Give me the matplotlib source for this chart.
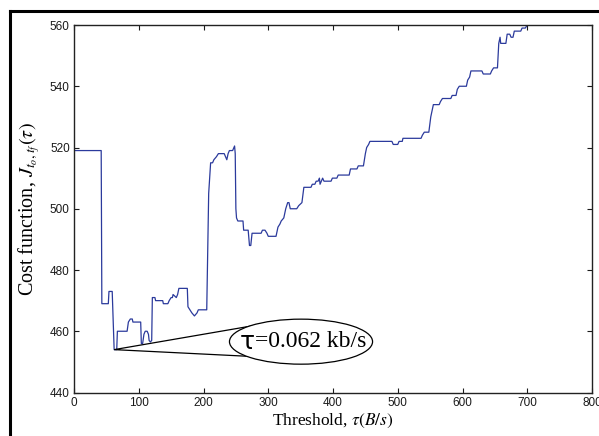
import matplotlib
matplotlib.use('Agg')
import matplotlib.pyplot as plt
from matplotlib.patches import Ellipse, Polygon
from matplotlib.lines import Line2D

plt.rcParams['mathtext.fontset'] = 'stix'

# threshold (B/s) and cost values
tau = [0, 42, 43, 53, 54, 59, 62, 66, 67, 82, 84, 87, 90, 91, 103, 104, 106, 108, 110, 113,
       115, 116, 118, 120, 121, 125, 126, 137, 138, 145, 147, 150, 152, 153, 158, 160, 162,
       166, 175, 176, 179, 182, 186, 190, 192, 205, 206, 208, 211, 214, 216, 220, 223, 232,
       234, 236, 238, 240, 245, 248, 249, 250, 251, 253, 261, 262, 269, 271, 273, 275, 289,
       291, 295, 298, 300, 312, 315, 318, 320, 324, 327, 330, 332, 334, 344, 347, 352, 355,
       366, 368, 372, 374, 377, 379, 380, 382, 384, 386, 397, 399, 406, 408, 425, 427, 437,
       439, 447, 450, 452, 455, 457, 491, 493, 500, 502, 507, 508, 536, 538, 541, 548, 551,
       553, 555, 564, 566, 569, 582, 584, 590, 592, 595, 606, 608, 611, 613, 630, 632, 643,
       645, 648, 654, 655, 656, 658, 659, 667, 669, 673, 675, 678, 680, 690, 692, 697, 700]
cost = [519, 519, 469, 469, 473, 473, 454, 454, 460, 460, 463, 464, 464, 463, 463, 456, 456, 459, 460, 460,
        459, 457, 456.5, 457, 471, 471, 470, 470, 469, 469, 470, 471, 471, 472, 471, 472, 474,
        474, 474, 468, 467, 466, 465, 466, 467, 467, 480, 505, 515, 515, 516, 517, 518, 518,
        517, 516, 518, 519, 519, 520.5, 518, 500, 497, 496, 496, 493, 493, 488, 488, 492, 492,
        493, 493, 492, 491, 491, 494, 495, 496, 497, 500, 502, 502, 500, 500, 501, 502, 507,
        507, 508, 508, 509, 509, 510, 508, 509, 510, 509, 509, 510, 510, 511, 511, 513, 513,
        514, 514, 518, 520, 521, 522, 522, 521, 521, 522, 522, 523, 523, 524, 525, 525, 530,
        532, 534, 534, 535, 536, 536, 537, 537, 539, 540, 540, 542, 543, 545, 545, 544, 544,
        545, 546, 546, 550, 554, 556, 554, 554, 557, 557, 556, 556, 558, 558, 559, 559, 560]

xticks = [0, 100, 200, 300, 400, 500, 600, 700, 800]
yticks = [440, 460, 480, 500, 520, 540, 560]
best_tau = 62
best_cost = 454

fig = plt.figure(figsize=(5.99, 4.36), dpi=100)
ax = fig.add_axes([74 / 599, 1 - 392.5 / 436, (592 - 74) / 599, (392.5 - 25) / 436])

ax.plot(tau, cost, color='#2b3a9c', linewidth=0.9)

ax.set_xlim(0, 800)
ax.set_ylim(440, 560)
ax.set_xticks(xticks)
ax.set_yticks(yticks)
ax.tick_params(direction='in', length=3.5, width=0.8, top=True, right=True,
               labelsize=8.5, colors='#1a1a1a', pad=3)
for lab in ax.get_xticklabels() + ax.get_yticklabels():
    lab.set_family('Liberation Sans')
for s in ax.spines.values():
    s.set_linewidth(1.0)
    s.set_color('#222222')

ax.set_xlabel(r'Threshold, $\tau(B/s)$', family='Liberation Serif', fontsize=12.5, labelpad=2)
ax.set_ylabel(r'Cost function, $J_{t_o,t_f}(\tau)$', family='Liberation Serif', fontsize=14.5, labelpad=6)

# callout: wedge from the minimum to an ellipse holding the label
wedge = Polygon([(best_tau, best_cost), (290, 462.3), (290, 451.6)], closed=True,
                facecolor='white', edgecolor='black', linewidth=0.9, zorder=3)
ax.add_patch(wedge)
ell = Ellipse((350.6, 456.6), 221, 14.7, facecolor='white', edgecolor='black',
              linewidth=0.9, zorder=4)
ax.add_patch(ell)
ax.text(279, 456.4, 'τ', ha='right', va='center', fontsize=18, family='DejaVu Sans', zorder=5)
ax.text(279.5, 456.6, '=0.062 kb/s', ha='left', va='center', fontsize=17,
        family='Liberation Serif', zorder=5)

# outer frame around the figure
fig.add_artist(Line2D([10 / 599, 10 / 599], [0, 1 - 11 / 436], color='black', linewidth=2.2,
                      transform=fig.transFigure))
fig.add_artist(Line2D([10 / 599, 1], [1 - 11 / 436, 1 - 11 / 436], color='black', linewidth=2.2,
                      transform=fig.transFigure))

fig.savefig('out.png', dpi=100)
